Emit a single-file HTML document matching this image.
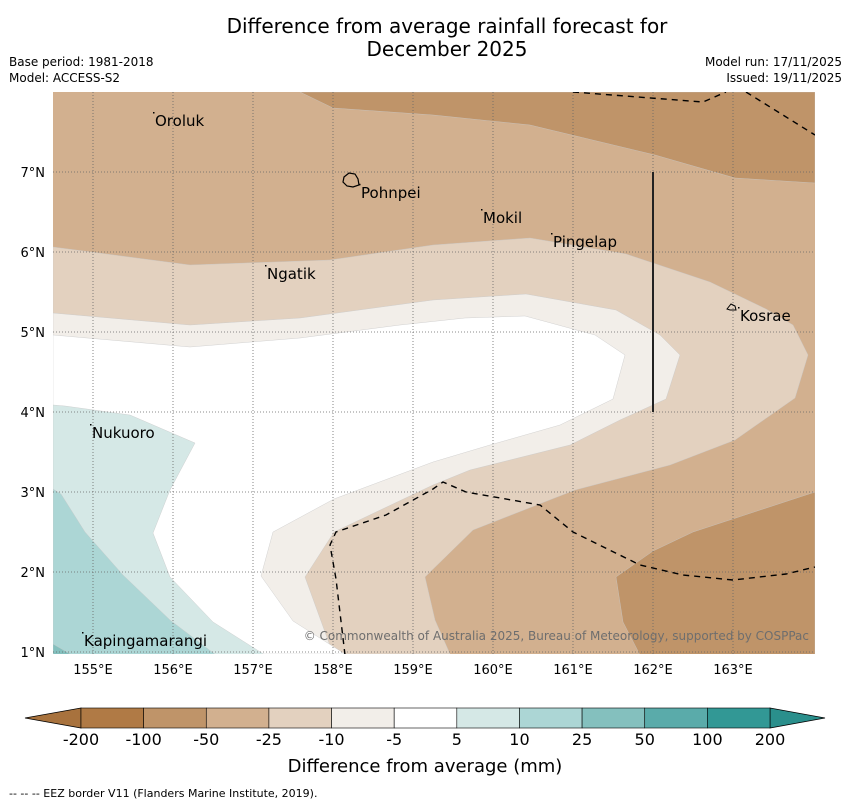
<!DOCTYPE html>
<html><head><meta charset="utf-8">
<style>
body{margin:0;background:#fff;}
svg{display:block;font-family:"DejaVu Sans","Liberation Sans",sans-serif;}
</style></head>
<body>
<svg id="fig" width="850" height="804" viewBox="0 0 850 804" xmlns="http://www.w3.org/2000/svg">
<text x="447" y="33" font-size="20" text-anchor="middle">Difference from average rainfall forecast for</text>
<text x="447" y="56" font-size="20" text-anchor="middle">December 2025</text>
<text x="9" y="66" font-size="12">Base period: 1981-2018</text>
<text x="9" y="82" font-size="12">Model: ACCESS-S2</text>
<text x="842" y="66" font-size="12" text-anchor="end">Model run: 17/11/2025</text>
<text x="842" y="82" font-size="12" text-anchor="end">Issued: 19/11/2025</text>
<defs><clipPath id="mapclip"><rect x="53" y="92" width="762" height="562"/></clipPath></defs>
<g id="map" clip-path="url(#mapclip)"></g>
<g id="over"></g>
<g id="cbar"></g>
<text x="425" y="772" font-size="18" text-anchor="middle">Difference from average (mm)</text>
<text x="9" y="797" font-size="11">--  --  -- EEZ border V11 (Flanders Marine Institute, 2019).</text>
</svg>
<script>
// ---- data ----
const lonTicks=[155,156,157,158,159,160,161,162,163];
const latTicks=[1,2,3,4,5,6,7];
const cbLevels=["-200","-100","-50","-25","-10","-5","5","10","25","50","100","200"];
const cbColors=["#b07a45","#bf9469","#d2b08f","#e3d1bf","#f2eee9","#ffffff","#d5e8e6","#acd6d5","#84c0be","#5aabaa","#329895"];
const P=(pts)=>pts.map(p=>[154.5+(p[0]-53)/80, 8-(p[1]-92)/80]);
const regions=[
 {name:"anom-minus25",color:"#e3d1bf",pts:P([[53,247],[190,265],[330,260],[433,245],[530,238],[626,254],[710,282],[766,309],[793,325],[808,355],[795,398],[735,440],[670,465],[575,490],[473,530],[425,577],[435,620],[450,654],[53,654]])},
 {name:"anom-minus10",color:"#f2eee9",pts:P([[53,313],[190,325],[300,318],[433,300],[526,294],[616,310],[660,335],[680,355],[666,399],[620,420],[570,445],[470,470],[433,485],[334,532],[305,577],[333,654],[53,654]])},
 {name:"anom-near-zero",color:"#ffffff",pts:P([[53,335],[190,347],[300,338],[400,325],[465,318],[525,316],[595,335],[625,355],[613,399],[560,425],[490,445],[433,462],[334,499],[273,532],[261,576],[293,621],[345,654],[53,654]])},
 {name:"anom-plus5",color:"#d5e8e6",pts:P([[53,405],[65,406],[130,415],[195,443],[170,490],[153,533],[170,577],[213,622],[265,655],[53,655]])},
 {name:"anom-plus10",color:"#acd6d5",pts:P([[53,489],[61,494],[85,532],[123,575],[170,620],[216,655],[53,655]])},
 {name:"anom-plus25",color:"#84c0be",pts:P([[53,644],[72,655],[53,655]])},
 {name:"anom-minus100-north",color:"#bf9469",pts:P([[300,92],[333,108],[433,115],[530,125],[655,155],[735,178],[815,183],[815,92]])},
 {name:"anom-minus100-southeast",color:"#bf9469",pts:P([[616,577],[653,551],[693,532],[815,492],[815,655],[640,655],[623,622]])}
];
const eezLines=[
 P([[573,92],[703,102],[726,92]]),
 P([[746,92],[815,135]]),
 P([[345,655],[336,579],[330,545],[336,532],[386,515],[433,489],[443,482],[466,492],[540,505],[573,532],[640,565],[683,575],[733,580],[786,574],[815,567]])
];
const places=[["Oroluk",155.775,7.6375],["Pohnpei",158.35,6.74],["Mokil",159.875,6.425],["Pingelap",160.75,6.125],["Ngatik",157.175,5.725],["Kosrae",163.0875,5.2],["Nukuoro",154.9875,3.7375],["Kapingamarangi",154.8875,1.1375]];
// ---- axes ----
const X=lon=>93+(lon-155)*80, Y=lat=>652-(lat-1)*80;
const NS="http://www.w3.org/2000/svg";
function mk(tag,attrs,parent){const e=document.createElementNS(NS,tag);for(const k in attrs)e.setAttribute(k,attrs[k]);parent.appendChild(e);return e;}
const map=document.getElementById('map'),over=document.getElementById('over'),cb=document.getElementById('cbar');
let bg=mk('rect',{x:53,y:92,width:762,height:562,fill:'#d2b08f'},map);


regions.forEach(r=>{
 const d='M'+r.pts.map(p=>X(p[0]).toFixed(1)+','+Y(p[1]).toFixed(1)).join('L')+'Z';
 const e=mk('path',{d:d,fill:r.color,stroke:'#c8c8c8','stroke-width':0.4},map);
 
 
});
lonTicks.forEach(l=>{
 const g=mk('line',{x1:X(l),x2:X(l),y1:92,y2:654,stroke:'#666','stroke-width':0.8,'stroke-dasharray':'1,2'},over);
 
 
 const t=mk('text',{x:X(l),y:674,'font-size':13,'text-anchor':'middle'},over);t.textContent=l+'°E';
 
 
});
latTicks.forEach(l=>{
 const g=mk('line',{x1:53,x2:815,y1:Y(l),y2:Y(l),stroke:'#666','stroke-width':0.8,'stroke-dasharray':'1,2'},over);
 
 
 const t=mk('text',{x:45,y:Y(l)+5,'font-size':13,'text-anchor':'end'},over);t.textContent=l+'°N';
 
 
});
eezLines.forEach(L=>{
 const e=mk('polyline',{points:L.map(p=>X(p[0]).toFixed(1)+','+Y(p[1]).toFixed(1)).join(' '),fill:'none',stroke:'#000','stroke-width':1.4,'stroke-dasharray':'6,5','clip-path':'url(#mapclip)'},over);
 
 
});
let vl=mk('line',{x1:X(162),x2:X(162),y1:Y(7),y2:Y(4),stroke:'#222','stroke-width':2},over);


let ph=mk('path',{d:'M344,177 l5,-4 l6,1 l3,5 l1,6 l-6,2 l-6,-1 l-4,-4 z',fill:'none',stroke:'#000','stroke-width':1.2},over);


let ks=mk('path',{d:'M727,309 l4,-5 l4,2 l1,4 l-6,0 z',fill:'none',stroke:'#000','stroke-width':1},over);


places.forEach(p=>{
 const t=mk('text',{x:X(p[1]),y:Y(p[2])+5,'font-size':15},over);t.textContent=p[0];
 
 
 const d=mk('rect',{x:X(p[1])-2,y:Y(p[2])-9,width:1.5,height:1.5,fill:'#000'},over);
 
 
});
let cr=mk('text',{x:809,y:640,'font-size':12,'text-anchor':'end',fill:'#6e6e6e'},over);cr.textContent='© Commonwealth of Australia 2025, Bureau of Meteorology, supported by COSPPac';


// ---- colorbar ----
const cx0=81,cx1=770,cy=708,ch=20,n=cbColors.length,cw=(cx1-cx0)/n;
let lt=mk('path',{d:`M${cx0},${cy} L25,${cy+ch/2} L${cx0},${cy+ch} Z`,fill:'#a8723d',stroke:'#000','stroke-width':0.8},cb);


let rt=mk('path',{d:`M${cx1},${cy} L825,${cy+ch/2} L${cx1},${cy+ch} Z`,fill:'#2a8f8c',stroke:'#000','stroke-width':0.8},cb);


cbColors.forEach((c,i)=>{
 const r=mk('rect',{x:cx0+i*cw,y:cy,width:cw,height:ch,fill:c,stroke:'#000','stroke-width':0.6},cb);
 
 
});
cbLevels.forEach((l,i)=>{
 const t=mk('text',{x:cx0+i*cw,y:745,'font-size':16,'text-anchor':'middle'},cb);t.textContent=l;
 
 
});
</script>
</body></html>
